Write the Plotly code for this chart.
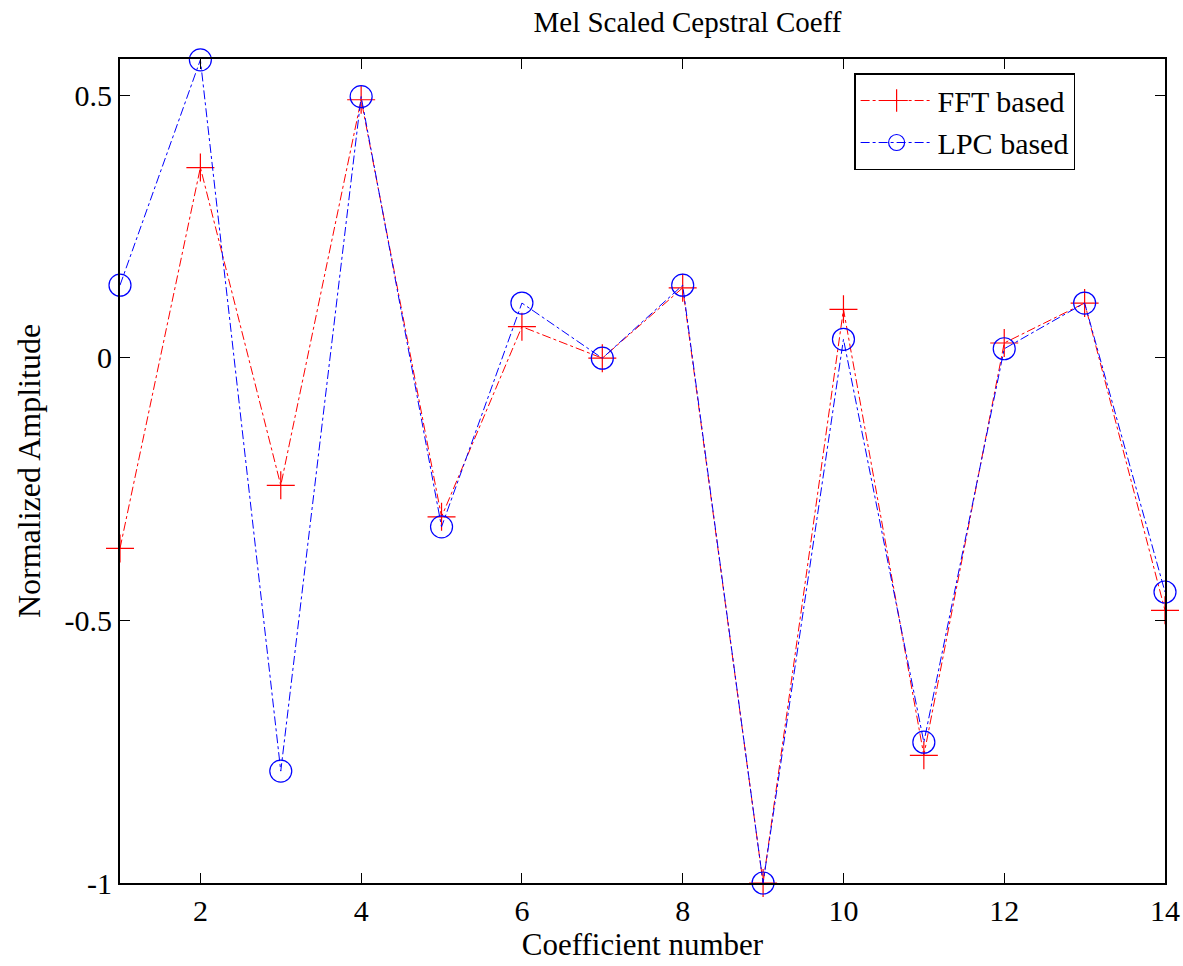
import plotly.graph_objects as go

coeff = list(range(1, 15))
fft_based = [-0.363, 0.362, -0.243, 0.491, -0.303, 0.059, -0.001, 0.133, -1.0, 0.092, -0.757, 0.028, 0.104, -0.481]
lpc_based = [0.138, 0.567, -0.787, 0.497, -0.322, 0.104, -0.001, 0.138, -1.0, 0.035, -0.732, 0.017, 0.104, -0.446]
x_ticks = [2, 4, 6, 8, 10, 12, 14]
y_ticks = [-1, -0.5, 0, 0.5]
y_tick_labels = ["-1", "-0.5", "0", "0.5"]

font_family = "Liberation Serif, Times New Roman, serif"

fig = go.Figure()
fig.add_trace(go.Scatter(
    x=coeff, y=fft_based, name="FFT based", mode="lines+markers",
    line=dict(color="#ff0000", width=1, dash="dashdot"),
    marker=dict(symbol="cross-thin-open", size=20, line=dict(color="#ff0000", width=1.2)),
    cliponaxis=False,
))
fig.add_trace(go.Scatter(
    x=coeff, y=lpc_based, name="LPC based", mode="lines+markers",
    line=dict(color="#0000ff", width=1, dash="dashdot"),
    marker=dict(symbol="circle-open", size=22, color="#0000ff", line=dict(color="#0000ff", width=1.2)),
    cliponaxis=False,
))

fig.update_layout(
    width=1183, height=966,
    margin=dict(l=120, r=18, t=59, b=83, autoexpand=False),
    paper_bgcolor="white", plot_bgcolor="white",
    font=dict(family=font_family, color="black", size=26),
    title=dict(text="Mel Scaled Cepstral Coeff", x=0.543, xref="paper", xanchor="center",
               y=0.977, yanchor="middle",
               font=dict(size=29, family=font_family)),
    showlegend=True,
    legend=dict(x=0.7025, xanchor="left", y=0.983, yanchor="top",
                bordercolor="black", borderwidth=1.5, bgcolor="white",
                font=dict(size=30, family=font_family), itemwidth=72,
                tracegroupgap=0),
)
fig.update_xaxes(
    range=[1, 14], tickvals=x_ticks, ticktext=[str(v) for v in x_ticks],
    showgrid=False, zeroline=False, showline=True, linecolor="black", linewidth=2,
    mirror="ticks", ticks="inside", ticklen=10, tickcolor="black", tickwidth=1,
    tickfont=dict(size=30, family=font_family), automargin=False,
    title=dict(text="Coefficient number", font=dict(size=31, family=font_family), standoff=6),
)
fig.update_yaxes(
    range=[-1, 0.5686], tickvals=y_ticks, ticktext=y_tick_labels,
    showgrid=False, zeroline=False, showline=True, linecolor="black", linewidth=2,
    mirror="ticks", ticks="inside", ticklen=10, tickcolor="black", tickwidth=1,
    tickfont=dict(size=30, family=font_family), automargin=False,
    title=dict(text="Normalized Amplitude", font=dict(size=32, family=font_family), standoff=14),
)

fig.write_html("out.html")
